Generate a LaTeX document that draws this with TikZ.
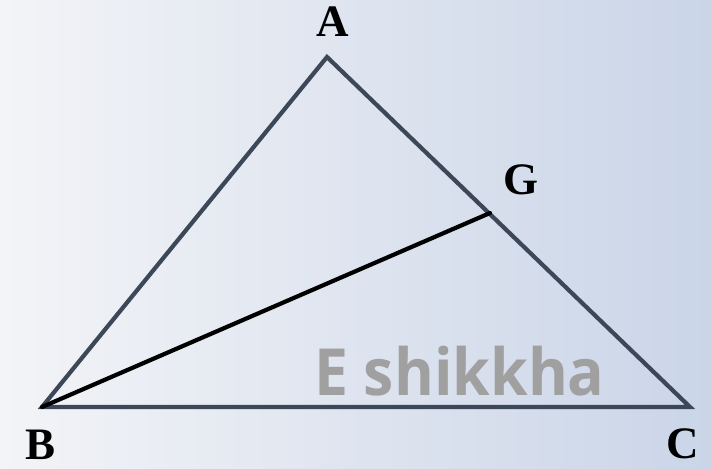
\documentclass[tikz,border=0pt]{standalone}
\usepackage{fontspec}
\setmainfont{Liberation Serif}
\newfontfamily\wmfont{Open Sans}
\definecolor{bgleft}{HTML}{F3F4F7}
\definecolor{bgright}{HTML}{CAD5E8}
\definecolor{edge}{HTML}{3C4758}
\definecolor{wm}{HTML}{A0A0A0}
\tikzset{
  side/.style={draw=edge, line width=4.2pt, line join=miter},
  cevian/.style={draw=black, line width=4.2pt, line cap=round},
  vlabel/.style={font=\bfseries\fontsize{45}{45}\selectfont, inner sep=0pt, text=black},
}
\begin{document}
\begin{tikzpicture}[x=1pt,y=-1pt]
\shade[left color=bgleft, right color=bgright] (0,0) rectangle (711,468);
\useasboundingbox (0,0) rectangle (711,468);
\coordinate (A) at (327,57);
\coordinate (B) at (42,407);
\coordinate (C) at (690,407);
\coordinate (G) at (490,213);
\node[anchor=base west, text=wm, inner sep=0pt, font=\wmfont\bfseries\fontsize{65}{65}\selectfont] (wm) at (314,395) {\scalebox{0.935}[1]{E shikkha}};
\draw[side] (A) -- (B) -- (C) -- cycle;
\draw[cevian] (B) -- (G);
\node[vlabel] (lA) at (333,22) {A};
\node[vlabel] (lG) at (521,180) {G};
\node[vlabel] (lB) at (41,445) {B};
\node[vlabel] (lC) at (683,444) {C};
\end{tikzpicture}
\end{document}
